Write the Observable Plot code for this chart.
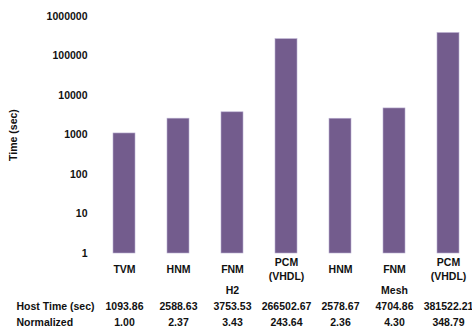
<!DOCTYPE html>
<html><head><meta charset="utf-8">
<script src="https://cdn.jsdelivr.net/npm/d3@7"></script>
<script src="https://cdn.jsdelivr.net/npm/@observablehq/plot@0.6"></script>
<style>
body{margin:0;background:#fff;}
svg{font-family:"Liberation Sans",Arial,sans-serif;}
</style>
</head><body><div id="chart"></div>
<script>
const categories = ["TVM","HNM","FNM","PCM\n(VHDL)","HNM","FNM","PCM\n(VHDL)"];
const groups = ["","","H2","","","Mesh",""];
const hostTime = [1093.86,2588.63,3753.53,266502.67,2578.67,4704.86,381522.21];
const normalized = [1.00,2.37,3.43,243.64,2.36,4.30,348.79];
const yTicks = [1,10,100,1000,10000,100000,1000000];
const rowLabels = ["Host Time (sec)","Normalized"];

const idx = categories.map((_, i) => i);
const font = {fontWeight: "bold", fontSize: 10.5, fill: "#111"};

const chart = Plot.plot({
  width: 472, height: 329,
  marginLeft: 107, marginRight: 8, marginTop: 16, marginBottom: 76,
  style: {fontFamily: "'Liberation Sans', Arial, sans-serif", fontSize: "10.5px", fontWeight: "bold", color: "#111"},
  x: {type: "band", domain: idx, paddingInner: 0.6, paddingOuter: 0.1, axis: null},
  y: {type: "log", domain: [1, 1000000]},
  marks: [
    Plot.axisY({ticks: yTicks, tickFormat: d => String(d), tickSize: 0, tickPadding: 20,
      label: "Time (sec)", labelAnchor: "center", labelArrow: "none", labelOffset: 98}),
    Plot.barY(idx, {x: d => d, y1: () => 1, y2: i => hostTime[i], fill: "#735c8d", stroke: "#b9aed0", strokeWidth: 0.6}),
    Plot.text(idx, {x: d => d, frameAnchor: "bottom", dy: 15, lineAnchor: "middle", lineHeight: 1.28, text: i => categories[i], ...font}),
    Plot.text(idx, {x: d => d, frameAnchor: "bottom", dy: 37, lineAnchor: "middle", text: i => groups[i], ...font}),
    Plot.text(idx, {x: d => d, frameAnchor: "bottom", dy: 53, lineAnchor: "middle", text: i => hostTime[i].toFixed(2), ...font}),
    Plot.text(idx, {x: d => d, frameAnchor: "bottom", dy: 69, lineAnchor: "middle", text: i => normalized[i].toFixed(2), ...font}),
    Plot.text([rowLabels[0]], {frameAnchor: "bottom-left", dx: -91, dy: 53, lineAnchor: "middle", textAnchor: "start", text: d => d, ...font}),
    Plot.text([rowLabels[1]], {frameAnchor: "bottom-left", dx: -91, dy: 69, lineAnchor: "middle", textAnchor: "start", text: d => d, ...font})
  ]
});
document.getElementById("chart").appendChild(chart);
</script>
</body></html>
